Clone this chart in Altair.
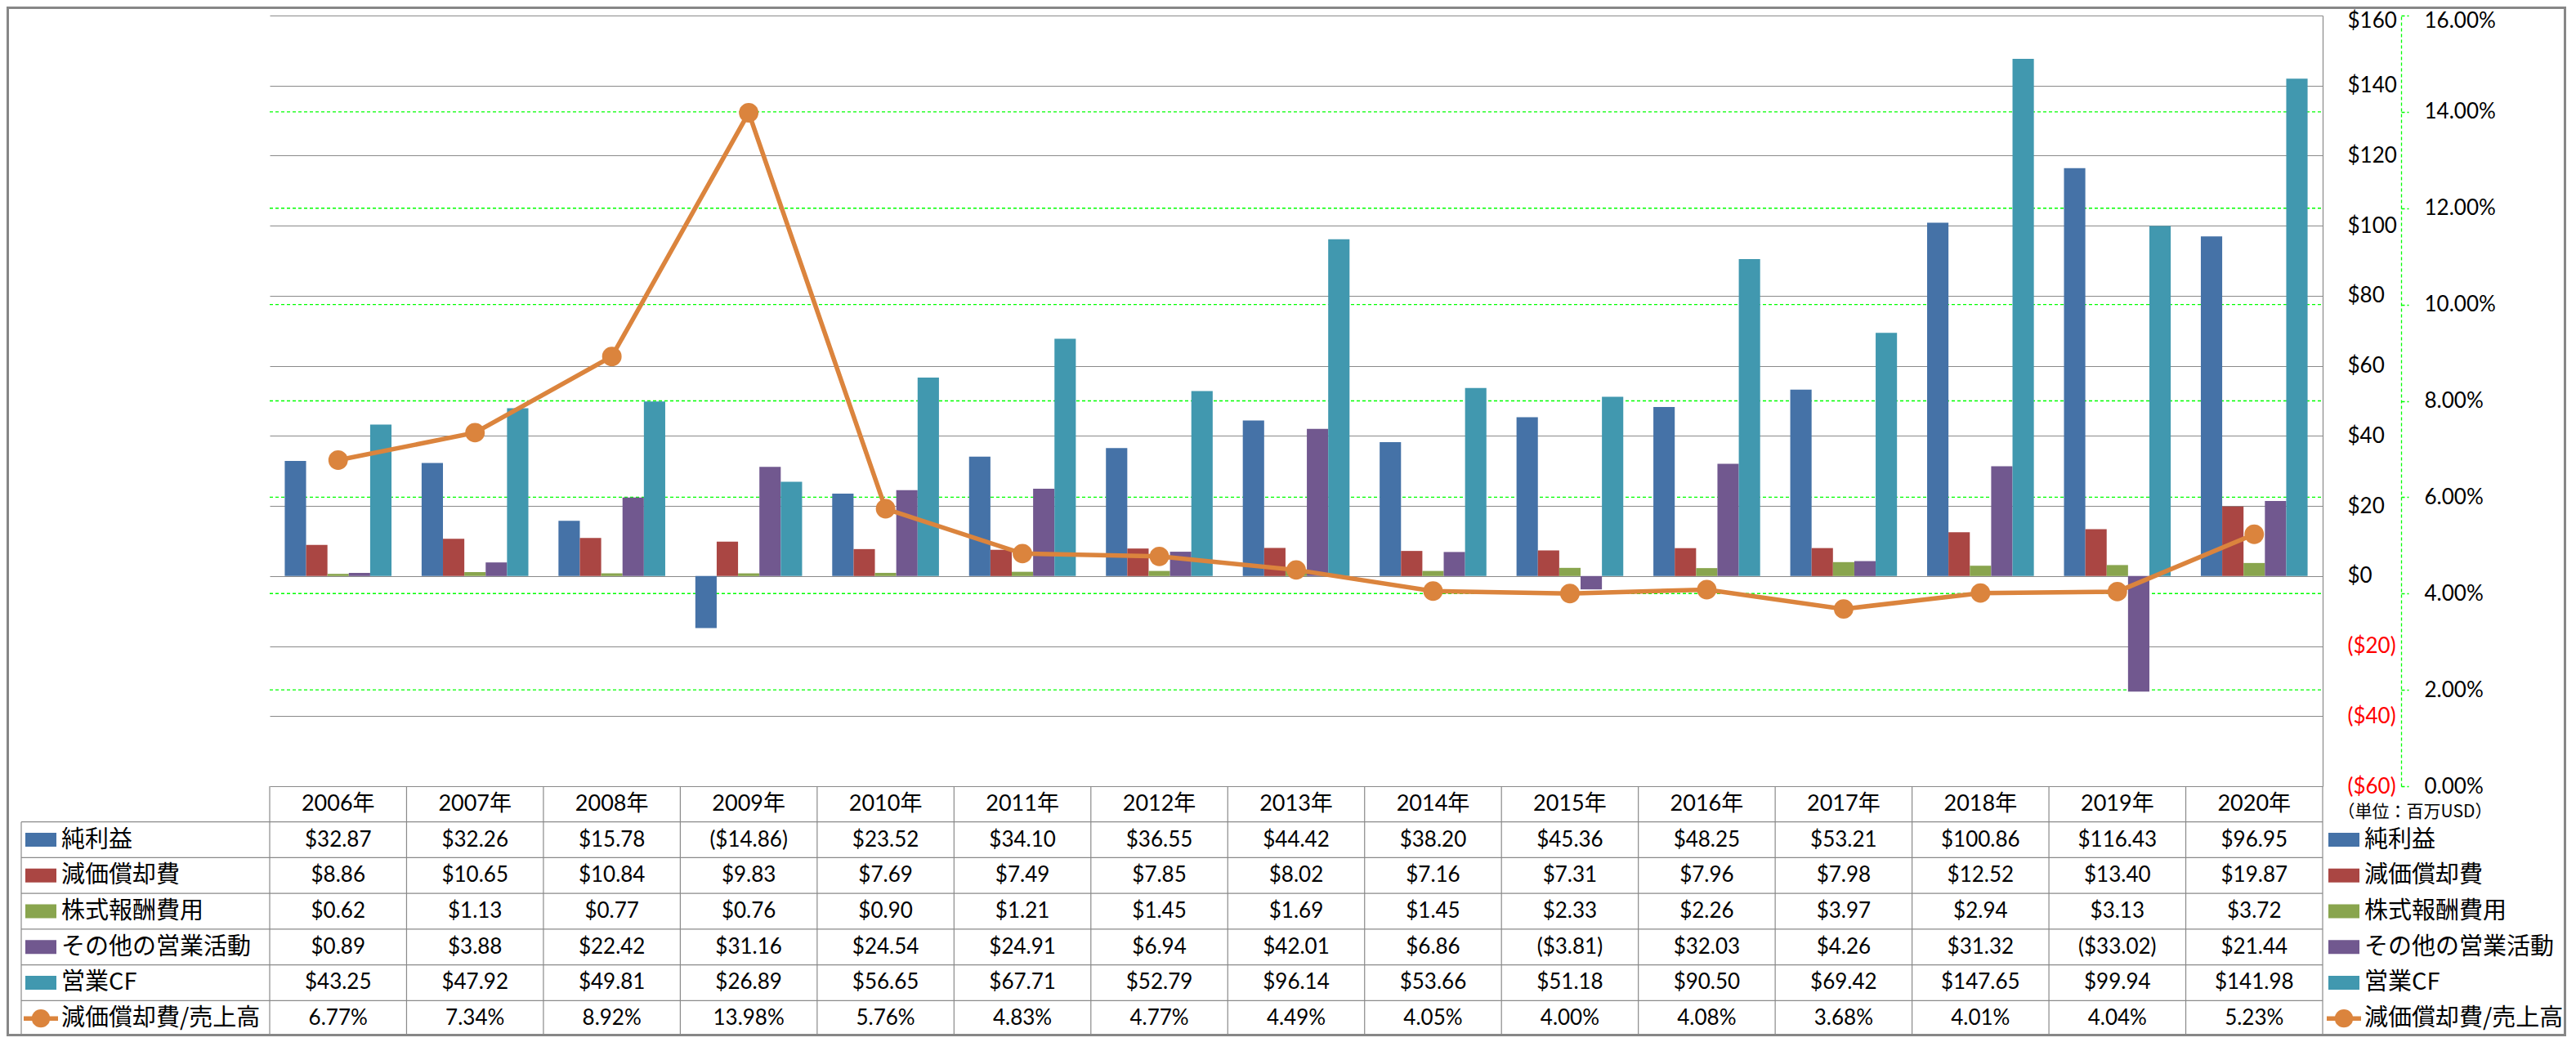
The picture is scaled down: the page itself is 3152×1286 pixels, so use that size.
import altair as alt
import pandas as pd

# ---------------- data ----------------
years = ["2006年", "2007年", "2008年", "2009年", "2010年", "2011年", "2012年", "2013年",
         "2014年", "2015年", "2016年", "2017年", "2018年", "2019年", "2020年"]
net_income = [32.87, 32.26, 15.78, -14.86, 23.52, 34.10, 36.55, 44.42, 38.20, 45.36, 48.25, 53.21, 100.86, 116.43, 96.95]
depreciation = [8.86, 10.65, 10.84, 9.83, 7.69, 7.49, 7.85, 8.02, 7.16, 7.31, 7.96, 7.98, 12.52, 13.40, 19.87]
stock_comp = [0.62, 1.13, 0.77, 0.76, 0.90, 1.21, 1.45, 1.69, 1.45, 2.33, 2.26, 3.97, 2.94, 3.13, 3.72]
other_ops = [0.89, 3.88, 22.42, 31.16, 24.54, 24.91, 6.94, 42.01, 6.86, -3.81, 32.03, 4.26, 31.32, -33.02, 21.44]
operating_cf = [43.25, 47.92, 49.81, 26.89, 56.65, 67.71, 52.79, 96.14, 53.66, 51.18, 90.50, 69.42, 147.65, 99.94, 141.98]
dep_ratio_pct = [6.77, 7.34, 8.92, 13.98, 5.76, 4.83, 4.77, 4.49, 4.05, 4.00, 4.08, 3.68, 4.01, 4.04, 5.23]

bar_series = ["純利益", "減価償却費", "株式報酬費用", "その他の営業活動", "営業CF"]
line_series = "減価償却費/売上高"
bar_colors = ["#4572A7", "#AA4643", "#89A54E", "#71588F", "#4198AF"]
line_color = "#DB843D"

dollar_ticks = [-60, -40, -20, 0, 20, 40, 60, 80, 100, 120, 140, 160]
pct_ticks = [0, 0.02, 0.04, 0.06, 0.08, 0.10, 0.12, 0.14, 0.16]
pct_grid = [0.02, 0.04, 0.06, 0.08, 0.10, 0.12, 0.14]
unit_note = "（単位：百万USD）"

# ---------------- tables ----------------
bar_values = [net_income, depreciation, stock_comp, other_ops, operating_cf]


def money(v):
    return f"(${abs(v):.2f})" if v < 0 else f"${v:.2f}"


bar_rows = []
for s, vals in zip(bar_series, bar_values):
    for y, v in zip(years, vals):
        bar_rows.append({"year": y, "series": s, "value": v})
bars_df = pd.DataFrame(bar_rows)

line_df = pd.DataFrame({"year": years, "pct": [v / 100 for v in dep_ratio_pct]})

cell_rows = []
for s, vals in zip(bar_series, bar_values):
    for y, v in zip(years, vals):
        cell_rows.append({"year": y, "row": s, "text": money(v)})
for y, v in zip(years, dep_ratio_pct):
    cell_rows.append({"year": y, "row": line_series, "text": f"{v:.2f}%"})
cells_df = pd.DataFrame(cell_rows)
header_df = pd.DataFrame({"year": years, "row": ["header"] * len(years), "text": years})

row_domain = ["header"] + bar_series + [line_series]
swatch_df = pd.DataFrame({"row": bar_series, "hex": bar_colors})
line_key_df = pd.DataFrame({"row": [line_series]})
label_df = pd.DataFrame({"row": bar_series + [line_series]})
hline_df = pd.DataFrame({"row": bar_series + [line_series]})
vline_df = pd.DataFrame({"year": years})
one_df = pd.DataFrame({"k": [0]})

# ---------------- layout ----------------
W, H = 2512, 943
PL, PT, PR, PB = 322, 11, 298, 306
TBL = PB  # table height below plot
GRAY = "#8a8a8a"
GREEN = "#00FF00"
NUM_FONT = "Lato, 'Noto Sans CJK JP', sans-serif"
CJK_FONT = "'Noto Sans CJK JP', sans-serif"
RECT_PATH = "M-1,-0.45L1,-0.45L1,0.45L-1,0.45Z"
ROW_H = TBL / len(row_domain)


def xb(bp=0.5):
    return alt.X("year:N", sort=years,
                 scale=alt.Scale(type="band", domain=years, paddingInner=0.22, paddingOuter=0.11),
                 axis=None, bandPosition=bp)


def xt(bp=0.5):
    return alt.X("year:N", sort=years,
                 scale=alt.Scale(type="band", domain=years, paddingInner=0, paddingOuter=0),
                 axis=None, bandPosition=bp)


def yrow(bp=0.5):
    return alt.Y("row:N", sort=row_domain,
                 scale=alt.Scale(type="band", domain=row_domain, range=[H, H + TBL],
                                 paddingInner=0, paddingOuter=0),
                 axis=None, bandPosition=bp)


pct_scale = alt.Scale(domain=[0, 0.16], nice=False, zero=True)

# percent gridlines (behind bars)
pgrid = alt.Chart(pd.DataFrame({"pct": pct_grid})).mark_rule(
    color=GREEN, strokeDash=[4, 3], strokeWidth=1.3
).encode(
    y=alt.Y("pct:Q", scale=pct_scale, axis=None),
    x=alt.value(0), x2=alt.value(W),
)

bars = alt.Chart(bars_df).mark_bar().encode(
    x=xb(),
    xOffset=alt.XOffset("series:N", sort=bar_series,
                        scale=alt.Scale(domain=bar_series, paddingInner=0, paddingOuter=0)),
    y=alt.Y("value:Q",
            scale=alt.Scale(domain=[-60, 160], nice=False, zero=True),
            axis=alt.Axis(
                orient="right", values=dollar_ticks, title=None,
                labelExpr="datum.value < 0 ? '($' + abs(datum.value) + ')' : '$' + datum.value",
                labelColor={"condition": {"test": "datum.value < 0", "value": "#FF0000"}, "value": "#000000"},
                labelOffset={"condition": {"test": "datum.value >= 160", "value": 6}, "value": 0},
                grid=True, gridColor=GRAY, gridWidth=1.2,
                domain=True, domainColor=GRAY, domainWidth=1.2,
                ticks=False, tickSize=0, labelPadding=30,
                labelFont=NUM_FONT, labelFontSize=26, labelAlign="left", labelBaseline="middle",
                labelFlush=False, labelOverlap=False,
            )),
    color=alt.Color("series:N", scale=alt.Scale(domain=bar_series, range=bar_colors), legend=None),
)

line = alt.Chart(line_df).mark_line(
    color=line_color, strokeWidth=5.5,
    point=alt.OverlayMarkDef(filled=True, size=570, color=line_color, opacity=1),
).encode(
    x=xb(0.5),
    y=alt.Y("pct:Q", scale=pct_scale,
            axis=alt.Axis(
                orient="right", offset=96, values=pct_ticks, format=".2%", title=None,
                grid=False,
                domain=True, domainColor=GREEN, domainDash=[4, 3], domainWidth=1.3,
                ticks=True, tickSize=9, tickColor=GREEN, tickDash=[4, 3], tickWidth=1.3,
                labelOffset={"condition": {"test": "datum.value >= 0.159", "value": 6}, "value": 0},
                labelPadding=19, labelFont=NUM_FONT, labelFontSize=26, labelColor="#000000",
                labelAlign="left", labelBaseline="middle", labelFlush=False, labelOverlap=False,
            )),
)

# data table
cells = alt.Chart(cells_df).mark_text(
    font=NUM_FONT, fontSize=26, color="#000000", align="center", baseline="middle"
).encode(x=xt(0.5), y=yrow(0.5), text="text:N")

header = alt.Chart(header_df).mark_text(
    font=NUM_FONT, fontSize=27, color="#000000", align="center", baseline="middle"
).encode(x=xt(0.5), y=yrow(0.5), text="text:N")

hlines = alt.Chart(hline_df).mark_rule(color=GRAY, strokeWidth=1.2).encode(
    y=yrow(0), x=alt.value(-304), x2=alt.value(W))

vlines = alt.Chart(vline_df).mark_rule(color=GRAY, strokeWidth=1.2).encode(
    x=xt(0), y=alt.value(H), y2=alt.value(H + TBL))

right_line = alt.Chart(one_df).mark_rule(color=GRAY, strokeWidth=1.2).encode(
    x=alt.value(W), y=alt.value(H), y2=alt.value(H + TBL))

left_line = alt.Chart(one_df).mark_rule(color=GRAY, strokeWidth=1.2).encode(
    x=alt.value(-304), y=alt.value(H + ROW_H), y2=alt.value(H + TBL))


def key_layers(cx, tx):
    sw = alt.Chart(swatch_df).mark_point(
        shape=RECT_PATH, filled=True, size=1444, opacity=1, strokeWidth=0
    ).encode(x=alt.value(cx), y=yrow(0.5), color=alt.Color("hex:N", scale=None, legend=None))
    lk = alt.Chart(line_key_df).mark_rule(color=line_color, strokeWidth=5.5).encode(
        x=alt.value(cx - 21), x2=alt.value(cx + 21), y=yrow(0.5))
    lp = alt.Chart(line_key_df).mark_point(
        shape="circle", filled=True, size=500, color=line_color, opacity=1
    ).encode(x=alt.value(cx), y=yrow(0.5))
    tx_ = alt.Chart(label_df).mark_text(
        font=CJK_FONT, fontSize=29, color="#000000", align="left", baseline="middle"
    ).encode(x=alt.value(tx), y=yrow(0.5), text="row:N")
    return [sw, lk, lp, tx_]


left_keys = key_layers(-280, -255)
right_keys = key_layers(2538, 2563)

note = alt.Chart(one_df).mark_text(
    font=CJK_FONT, fontSize=21, color="#000000", align="center", baseline="middle"
).encode(x=alt.value(2625), y=alt.value(975), text=alt.value(unit_note))

frame = alt.Chart(one_df).mark_rect(
    fillOpacity=0, stroke="#878787", strokeWidth=3
).encode(
    x=alt.value(-PL + 1.5), x2=alt.value(W + PR - 1.5),
    y=alt.value(-PT + 1.5), y2=alt.value(H + PB - 1.5),
)

chart = alt.layer(
    pgrid, bars, line, hlines, vlines, right_line, left_line, cells, header,
    *left_keys, *right_keys, note, frame,
).resolve_scale(
    x="independent", y="independent", color="independent"
).properties(
    width=W, height=H,
    padding={"left": PL, "top": PT, "right": PR, "bottom": PB},
    autosize=alt.AutoSizeParams(type="none"),
    background="white",
).configure_view(stroke=None)

chart.save("out.html", embed_options={"renderer": "svg", "actions": False})
